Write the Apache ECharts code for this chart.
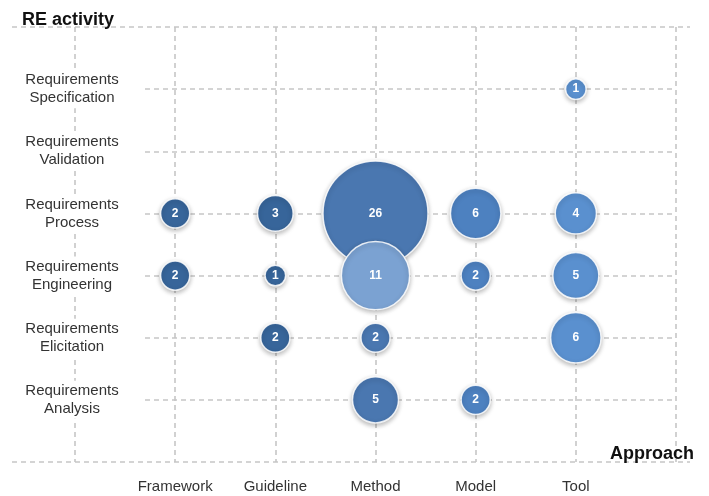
<!DOCTYPE html>
<html>
<head>
<meta charset="utf-8">
<script src="https://cdn.jsdelivr.net/npm/echarts@6/dist/echarts.min.js"></script>
<style>html,body{margin:0;padding:0;background:#fff}#c{width:709px;height:496px}</style>
</head>
<body>
<div id="c"></div>
<script>
var approaches = ['Framework', 'Guideline', 'Method', 'Model', 'Tool'];
var activities = ['Requirements\nAnalysis', 'Requirements\nElicitation', 'Requirements\nEngineering', 'Requirements\nProcess', 'Requirements\nValidation', 'Requirements\nSpecification'];
// [approach, activity, count]
var framework = [['Framework', 'Requirements\nProcess', 2], ['Framework', 'Requirements\nEngineering', 2]];
var guideline = [['Guideline', 'Requirements\nProcess', 3], ['Guideline', 'Requirements\nEngineering', 1], ['Guideline', 'Requirements\nElicitation', 2]];
var method = [['Method', 'Requirements\nProcess', 26], ['Method', 'Requirements\nEngineering', 11], ['Method', 'Requirements\nElicitation', 2], ['Method', 'Requirements\nAnalysis', 5]];
var model = [['Model', 'Requirements\nProcess', 6], ['Model', 'Requirements\nEngineering', 2], ['Model', 'Requirements\nAnalysis', 2]];
var tool = [['Tool', 'Requirements\nSpecification', 1], ['Tool', 'Requirements\nProcess', 4], ['Tool', 'Requirements\nEngineering', 5], ['Tool', 'Requirements\nElicitation', 6]];

var colorFor = {Framework: '#37659a', Guideline: '#37659a', Method: '#4a77b0', Model: '#4d81c0', Tool: '#5a90cf'};
var allPoints = framework.concat(guideline, method, model, tool);

function toData(p) {
  var item = {value: [approaches.indexOf(p[0]) + 1, activities.indexOf(p[1]) + 1, p[2]]};
  var c = colorFor[p[0]];
  if (p[0] === 'Method' && p[1] === 'Requirements\nEngineering') c = '#7ba2d2';
  item.itemStyle = {color: c};
  return item;
}
var data = allPoints.map(toData);

var dash = {color: '#c6c6c6', width: 1.6, type: [5, 4]};
var chart = echarts.init(document.getElementById('c'), null, {renderer: 'canvas'});
chart.setOption({
  animation: false,
  title: [
    {text: 'RE activity', left: 17, top: 6, textStyle: {fontFamily: 'Liberation Sans', fontSize: 18, fontWeight: 'bold', color: '#111'}},
    {text: 'Approach', left: 605, top: 440, textStyle: {fontFamily: 'Liberation Sans', fontSize: 18, fontWeight: 'bold', color: '#111'}}
  ],
  grid: [
    {left: 75, right: 33, top: 27, height: 435},
    {left: 145, right: 33, top: 27, height: 435},
    {left: 12, right: 19, top: 27, height: 435}
  ],
  xAxis: [
    {gridIndex: 0, type: 'value', min: 0, max: 6, interval: 1,
      axisLine: {show: false}, axisTick: {show: false},
      splitLine: {show: true, lineStyle: dash},
      axisLabel: {margin: 17, fontFamily: 'Liberation Sans', fontSize: 15, color: '#333',
        formatter: function (v) { return (v >= 1 && v <= 5) ? approaches[v - 1] : ''; }}},
    {gridIndex: 1, type: 'value', min: 0, max: 6, show: false},
    {gridIndex: 2, type: 'value', min: 0, max: 6, show: false}
  ],
  yAxis: [
    {gridIndex: 0, type: 'value', min: 0, max: 7, interval: 1,
      axisLine: {show: false}, axisTick: {show: false}, splitLine: {show: false},
      axisLabel: {margin: 3, align: 'center', fontFamily: 'Liberation Sans', fontSize: 15, color: '#333', lineHeight: 18,
        backgroundColor: '#fff', padding: [1, 0, 1, 0],
        formatter: function (v) { return (v >= 1 && v <= 6) ? activities[v - 1] : ''; }}},
    {gridIndex: 1, type: 'value', min: 0, max: 7, interval: 1,
      axisLine: {show: false}, axisTick: {show: false}, axisLabel: {show: false},
      splitLine: {show: true, showMinLine: false, showMaxLine: false, lineStyle: dash}},
    {gridIndex: 2, type: 'value', min: 0, max: 7, interval: 7,
      axisLine: {show: false}, axisTick: {show: false}, axisLabel: {show: false},
      splitLine: {show: true, lineStyle: dash}}
  ],
  series: [{
    type: 'scatter', xAxisIndex: 0, yAxisIndex: 0, z: 5,
    data: data,
    symbolSize: function (v) { return Math.sqrt(v[2]) * 20.6; },
    itemStyle: {borderColor: 'rgba(255,255,255,0.85)', borderWidth: 1.5, shadowBlur: 5, shadowColor: 'rgba(0,0,0,0.28)', shadowOffsetY: 2, opacity: 1},
    label: {show: true, position: 'inside', formatter: function (p) { return p.value[2]; },
      color: '#fff', fontFamily: 'Liberation Sans', fontWeight: 'bold', fontSize: 12}
  }]
});
</script>
</body>
</html>
